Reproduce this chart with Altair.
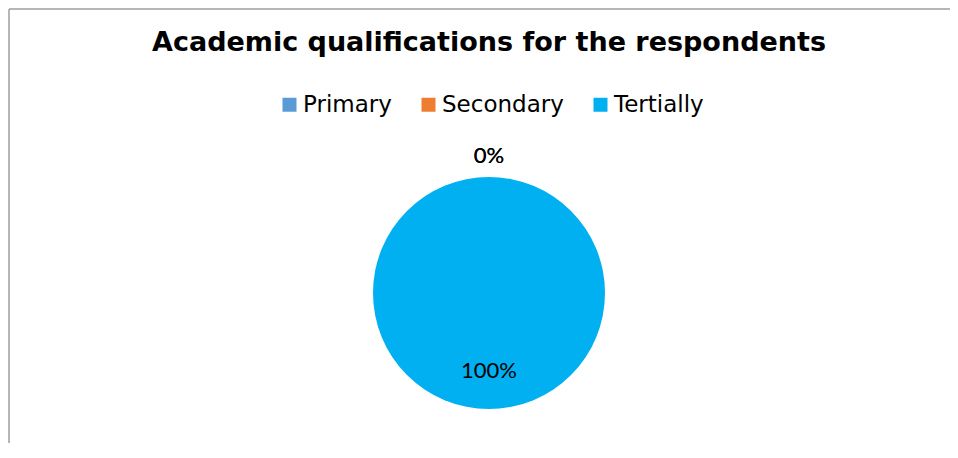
import altair as alt
import pandas as pd

categories = ["Primary", "Secondary", "Tertially"]
values = [0, 0, 100]
colors = ["#5B9BD5", "#ED7D31", "#00B0F0"]
title_text = "Academic qualifications for the respondents"

df = pd.DataFrame({"category": categories, "value": values, "order": list(range(len(categories)))})
base = alt.Chart(df).transform_calculate(label="datum.value + '%'")

theta = alt.Theta("value:Q", stack=True)
order = alt.Order("order:Q")

pie = base.mark_arc(radius=116).encode(
    theta=theta,
    order=order,
    color=alt.Color(
        "category:N",
        scale=alt.Scale(domain=categories, range=colors),
        legend=alt.Legend(
            orient="none", direction="horizontal", columns=3,
            legendX=250, legendY=-50, title=None,
            symbolType="square", symbolSize=196, symbolStrokeWidth=0,
            labelFont="DejaVu Sans", labelFontSize=23, labelColor="black",
            labelOffset=2, columnPadding=25, padding=0, labelLimit=400,
        ),
    ),
)

zero_labels = base.transform_filter("datum.value == 0").mark_text(
    radius=137, font="Lato", fontSize=22, color="black"
).encode(theta=theta, order=order, text="label:N")

main_labels = base.transform_filter("datum.value > 0").mark_text(
    radius=78, font="Lato", fontSize=22, color="black"
).encode(theta=theta, order=order, text="label:N")

frame = alt.Data(values=[{"k": 1}])
left_border = alt.Chart(frame).mark_rule(color="#9e9e9e", strokeWidth=1.5).encode(
    x=alt.value(-19), y=alt.value(-134), y2=alt.value(300)
)
top_border = alt.Chart(frame).mark_rule(color="#9e9e9e", strokeWidth=1.5).encode(
    x=alt.value(-19), x2=alt.value(930), y=alt.value(-134)
)

chart = alt.layer(left_border, top_border, pie, zero_labels, main_labels).properties(
    width=922,
    height=300,
    autosize=alt.AutoSizeParams(type="none"),
    padding={"left": 20, "top": 135, "right": 0, "bottom": 0},
    title=alt.TitleParams(
        title_text, font="DejaVu Sans", fontSize=27, fontWeight="bold",
        color="black", anchor="middle", offset=-49,
    ),
).configure_view(stroke=None)

chart.save("out.html", embed_options={"renderer": "svg", "actions": False})
